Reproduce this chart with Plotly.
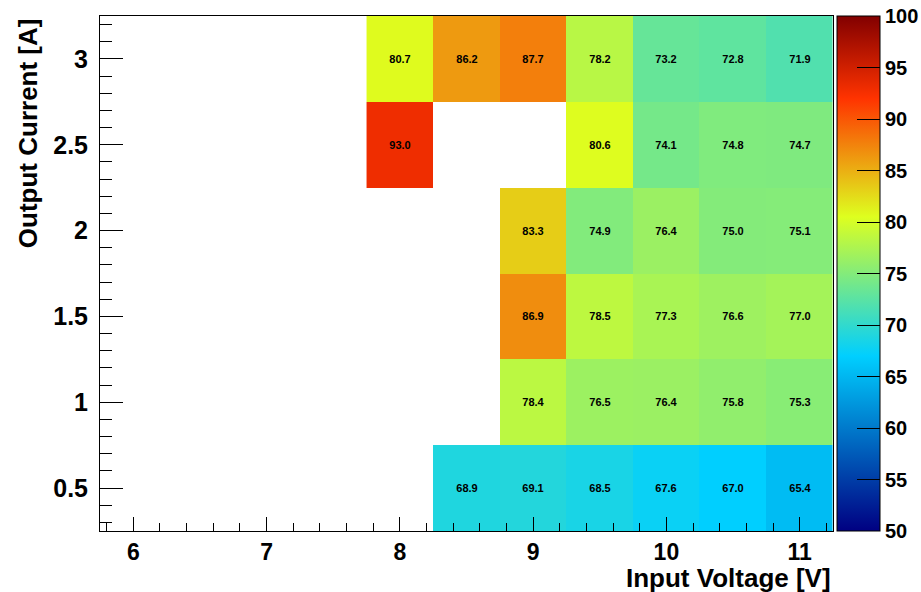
import plotly.graph_objects as go
import numpy as np

voltage = [8.0, 8.5, 9.0, 9.5, 10.0, 10.5, 11.0]
current = [0.5, 1.0, 1.5, 2.0, 2.5, 3.0]
N = None
eff_0p5 = [N, 68.9, 69.1, 68.5, 67.6, 67.0, 65.4]
eff_1p0 = [N, N, 78.4, 76.5, 76.4, 75.8, 75.3]
eff_1p5 = [N, N, 86.9, 78.5, 77.3, 76.6, 77.0]
eff_2p0 = [N, N, 83.3, 74.9, 76.4, 75.0, 75.1]
eff_2p5 = [93.0, N, N, 80.6, 74.1, 74.8, 74.7]
eff_3p0 = [80.7, 86.2, 87.7, 78.2, 73.2, 72.8, 71.9]
cbar_ticks = [50, 55, 60, 65, 70, 75, 80, 85, 90, 95, 100]

z = [eff_0p5, eff_1p0, eff_1p5, eff_2p0, eff_2p5, eff_3p0]
z = [[np.nan if v is None else v for v in row] for row in z]

colorscale = [
    [0.0, "rgb(0,0,130)"],
    [0.34, "rgb(0,207,255)"],
    [0.61, "rgb(222,255,31)"],
    [0.84, "rgb(255,51,0)"],
    [1.0, "rgb(130,0,0)"],
]

FONT = "Liberation Sans"

fig = go.Figure(go.Heatmap(
    x=voltage, y=current, z=z,
    zmin=50, zmax=100,
    colorscale=colorscale,
    texttemplate="%{z:.1f}",
    textfont=dict(family=FONT, size=11, color="black", weight="bold"),
    hoverongaps=False,
    colorbar=dict(
        x=1.0055, xanchor="left", xpad=0,
        y=0.5, yanchor="middle", len=1.0, lenmode="fraction",
        thickness=43, thicknessmode="pixels",
        outlinecolor="black", outlinewidth=1,
        ticks="inside", ticklen=23, tickcolor="black", tickwidth=1,
        tickvals=cbar_ticks,
        ticktext=[str(t) for t in cbar_ticks],
        tickfont=dict(family=FONT, size=20, color="black", weight="bold"),
        ticklabeloverflow="allow",
        ypad=0,
    ),
))

fig.update_xaxes(
    range=[5.75, 11.25], showgrid=False, zeroline=False,
    showline=True, linecolor="black", linewidth=1, mirror=True,
    ticks="inside", ticklen=14, tickcolor="black", tickwidth=1,
    tick0=0, dtick=1,
    minor=dict(ticks="inside", ticklen=8, dtick=0.2, tick0=0, tickcolor="black", showgrid=False),
    tickfont=dict(family=FONT, size=23, color="black", weight="bold"),
    ticklabelstandoff=0,
)
fig.update_yaxes(
    range=[0.25, 3.25], showgrid=False, zeroline=False,
    showline=True, linecolor="black", linewidth=1, mirror=True,
    ticks="inside", ticklen=23, tickcolor="black", tickwidth=1,
    tick0=0, dtick=0.5,
    minor=dict(ticks="inside", ticklen=12, dtick=0.1, tick0=0, tickcolor="black", showgrid=False),
    tickfont=dict(family=FONT, size=25, color="black", weight="bold"),
    ticklabelstandoff=6,
)

fig.update_layout(
    width=921, height=592,
    margin=dict(l=100, r=88, t=16, b=61, autoexpand=False),
    plot_bgcolor="white", paper_bgcolor="white",
    font=dict(family=FONT, color="black"),
    annotations=[
        dict(text="Input Voltage [V]", xref="paper", yref="paper",
             x=1.0, y=-0.092, xanchor="right", yanchor="middle", showarrow=False,
             font=dict(family=FONT, size=26, color="black", weight="bold")),
        dict(text="Output Current [A]", xref="paper", yref="paper",
             x=-0.098, y=1.0, xanchor="center", yanchor="top", showarrow=False, textangle=-90,
             font=dict(family=FONT, size=26, color="black", weight="bold")),
    ],
)

# remove the browser's default 8px body margin so the figure fills the window exactly
fig.write_html(
    "out.html",
    config={"displayModeBar": False},
    post_script="document.body.style.margin='0';document.body.style.overflow='hidden';",
)
